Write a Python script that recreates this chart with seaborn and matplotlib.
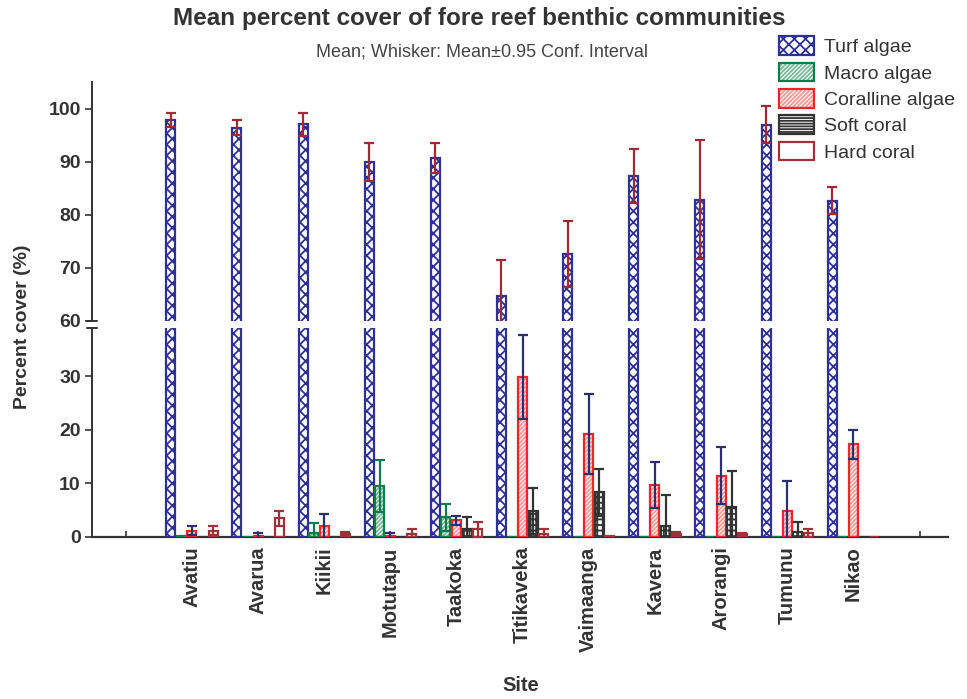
import numpy as np
import pandas as pd
import matplotlib
matplotlib.use("Agg")
import matplotlib.pyplot as plt
import seaborn as sns
from matplotlib.patches import Patch, Rectangle

# ---- data: mean percent cover and 95% CI half-widths per site ----
sites = ["Avatiu", "Avarua", "Kiikii", "Motutapu", "Taakoka", "Titikaveka",
         "Vaimaanga", "Kavera", "Arorangi", "Tumunu", "Nikao"]
groups = ["Turf algae", "Macro algae", "Coralline algae", "Soft coral", "Hard coral"]

turf = [97.9, 96.5, 97.1, 90.0, 90.75, 64.7, 72.65, 87.4, 82.9, 97.05, 82.7]
turf_ci = [1.3, 1.5, 2.2, 3.6, 2.85, 6.8, 6.25, 5.1, 11.2, 3.55, 2.6]
macro = [0.1, 0.0, 0.8, 9.5, 3.7, 0.0, 0.0, 0.0, 0.0, 0.0, 0.0]
macro_ci = [0.0, 0.0, 1.9, 4.9, 2.5, 0.0, 0.0, 0.0, 0.0, 0.0, 0.0]
coralline = [1.2, 0.2, 2.0, 0.2, 3.1, 29.9, 19.2, 9.75, 11.4, 4.8, 17.3]
coralline_ci = [0.8, 0.6, 2.35, 0.6, 0.9, 7.8, 7.5, 4.3, 5.3, 5.6, 2.75]
soft = [0.0, 0.0, 0.0, 0.0, 1.55, 4.8, 8.3, 2.1, 5.65, 0.85, 0.0]
soft_ci = [0.0, 0.0, 0.0, 0.0, 2.1, 4.3, 4.3, 5.8, 6.6, 1.9, 0.0]
hard = [1.2, 3.45, 0.5, 0.5, 1.4, 0.55, 0.1, 0.6, 0.5, 0.75, 0.0]
hard_ci = [0.8, 1.4, 0.4, 0.9, 1.35, 1.0, 0.0, 0.3, 0.3, 0.75, 0.0]

upper_ticks = [60, 70, 80, 90, 100]
lower_ticks = [0, 10, 20, 30]

means = {"Turf algae": turf, "Macro algae": macro, "Coralline algae": coralline,
         "Soft coral": soft, "Hard coral": hard}
cis = {"Turf algae": turf_ci, "Macro algae": macro_ci, "Coralline algae": coralline_ci,
       "Soft coral": soft_ci, "Hard coral": hard_ci}

df = pd.DataFrame([(s, g, means[g][i]) for g in groups for i, s in enumerate(sites)],
                  columns=["Site", "Group", "Cover"])

# ---- styles: outline colour, fill, hatch pattern + hatch colour, whisker colour ----
styles = {
    "Turf algae":      dict(edge="#2E3192", face="white",   hatch="xxx",
                            hcol="#2E3192", err="#9E2A35"),
    "Macro algae":     dict(edge="#0F7C4C", face="white",   hatch="////////",
                            hcol="#78B898", err="#0F7C4C"),
    "Coralline algae": dict(edge="#F2232A", face="#FFF4F4", hatch="////////",
                            hcol="#F59A9A", err="#2A2F6E"),
    "Soft coral":      dict(edge="#333333", face="white",   hatch="+++",
                            hcol="#333333", err="#333333"),
    "Hard coral":      dict(edge="#A0303A", face="white",   hatch="",
                            hcol="#A0303A", err="#A0303A"),
}
LW = 1.6

sns.set_theme(style="white")
plt.rcParams["font.family"] = ["Liberation Sans", "DejaVu Sans"]
plt.rcParams["hatch.linewidth"] = 1.3

fig = plt.figure(figsize=(9.67, 6.99), dpi=100)
left, width = 0.0951, 0.8853
ax_lo = fig.add_axes([left, 0.2318, width, 0.299])
ax_hi = fig.add_axes([left, 0.5408, width, 0.342])

order = [""] + sites + [" "]
palette = {g: "white" for g in groups}

for ax in (ax_lo, ax_hi):
    sns.barplot(data=df, x="Site", y="Cover", hue="Group", order=order,
                hue_order=groups, palette=palette, width=0.8, gap=0.15,
                errorbar=None, legend=False, ax=ax, zorder=2)
    for g, cont in zip(groups, ax.containers):
        st = styles[g]
        xs, ys, es = [], [], []
        for bar, ci in zip(cont.patches, cis[g]):
            # hatch is drawn in the bar's edge colour; outline added separately
            bar.set_facecolor(st["face"])
            bar.set_edgecolor(st["hcol"])
            bar.set_hatch(st["hatch"])
            bar.set_linewidth(0)
            ax.add_patch(Rectangle(bar.get_xy(), bar.get_width(), bar.get_height(),
                                   fill=False, edgecolor=st["edge"], linewidth=LW,
                                   zorder=3))
            if ci > 0:
                xs.append(bar.get_x() + bar.get_width() / 2)
                ys.append(bar.get_height())
                es.append(ci)
        if xs:
            ax.errorbar(xs, ys, yerr=es, fmt="none", ecolor=st["err"],
                        elinewidth=1.6, capsize=3.5, capthick=1.6, zorder=4)
    ax.set_xlim(-0.51, 12.43)
    ax.set_xlabel("")
    ax.set_ylabel("")
    for sp in ("top", "right"):
        ax.spines[sp].set_visible(False)
    ax.spines["left"].set_color("#333333")
    ax.spines["left"].set_linewidth(1.4)
    ax.patch.set_alpha(0)

# upper panel
ax_hi.set_ylim(60, 105.1)
ax_hi.set_yticks(upper_ticks)
ax_hi.spines["bottom"].set_visible(False)
ax_hi.tick_params(axis="x", bottom=False, labelbottom=False)

# lower panel
ax_lo.set_ylim(0, 39)
ax_lo.set_yticks(lower_ticks)
ax_lo.spines["bottom"].set_color("#333333")
ax_lo.spines["bottom"].set_linewidth(1.6)
ax_lo.set_xticks(range(len(order)))
ax_lo.set_xticklabels(["" for _ in order])
ax_lo.tick_params(axis="x", direction="in", length=4, width=1.2, color="#333333",
                  bottom=True)
for i, s in enumerate(sites, start=1):
    ax_lo.text(i, -0.045, s, transform=ax_lo.get_xaxis_transform(), rotation=90,
               ha="center", va="top", fontsize=14.5, fontweight="bold", color="#333333")

for ax in (ax_lo, ax_hi):
    ax.tick_params(axis="y", direction="out", length=5, width=1.2, color="#333333",
                   left=True, labelsize=14, labelcolor="#333333", pad=3)
    for lab in ax.get_yticklabels():
        lab.set_fontweight("bold")

# break marks on the value axis
for ax, yv in ((ax_hi, 0.0), (ax_lo, 1.0)):
    ax.plot([-0.006, 0.006], [yv, yv], transform=ax.transAxes, color="#333333",
            lw=1.4, clip_on=False, zorder=5)

# ---- text ----
fig.text(0.496, 0.973, "Mean percent cover of fore reef benthic communities",
         ha="center", va="center", fontsize=17.5, fontweight="bold", color="#333333")
fig.text(0.498, 0.925, "Mean; Whisker: Mean\u00b10.95 Conf. Interval",
         ha="center", va="center", fontsize=13, color="#444444")
fig.text(0.023, 0.532, "Percent cover (%)", rotation=90, ha="center", va="center",
         fontsize=14, fontweight="bold", color="#333333")
fig.text(0.539, 0.019, "Site", ha="center", va="center",
         fontsize=14.5, fontweight="bold", color="#333333")

# ---- legend ----
handles = []
for g in groups:
    st = styles[g]
    if g == "Soft coral":
        fill = Patch(facecolor=st["face"], edgecolor=st["hcol"], hatch="------",
                     linewidth=0)
    else:
        fill = Patch(facecolor=st["face"], edgecolor=st["hcol"], hatch=st["hatch"],
                     linewidth=0)
    outline = Patch(facecolor="none", edgecolor=st["edge"], linewidth=LW)
    handles.append((fill, outline))
fig.legend(handles=handles, labels=groups, loc="upper left",
           bbox_to_anchor=(0.806, 0.948), frameon=False, fontsize=14,
           handlelength=1.8, handleheight=1.1, labelspacing=0.33,
           handletextpad=0.5, borderaxespad=0, borderpad=0,
           labelcolor="#333333")

fig.savefig("out.png", dpi=100)
